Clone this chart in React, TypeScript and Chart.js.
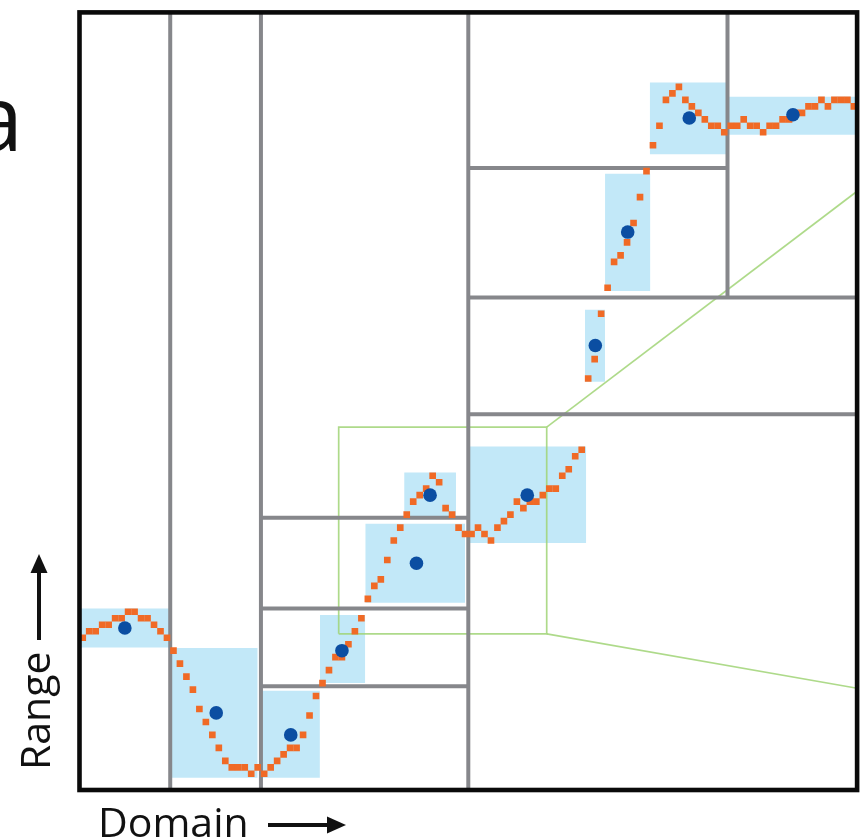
import React, { useEffect, useRef } from "react";
import { Chart, registerables } from "chart.js";

Chart.register(...registerables);

// Signal samples: one quantized level per domain cell (cell index = x).
const sampleLevels: number[] = [
  23, 24, 24, 25, 25, 26, 26, 27, 27, 26, 26, 25, 24, 23,
  21, 19, 17, 15, 12, 10, 8, 6, 4, 3, 3, 3, 2, 3,
  2, 3, 4, 5, 6, 6, 8, 11, 14, 16, 18, 20, 20, 22, 24, 26, 29, 31, 32, 35, 38, 40,
  42, 44, 45, 46, 48, 47, 43, 42, 40,
  39, 39, 40, 39, 38, 40, 41, 42, 44, 43, 44, 44, 45, 46, 46, 48, 49, 51, 52,
  63, 66, 73, 77, 81, 82, 84, 87, 91, 95, 99, 102, 106, 107, 108, 106, 105, 104,
  103, 102, 102, 101, 102, 102, 103, 102, 102, 101, 102, 102, 103, 103, 104, 104,
  105, 105, 106, 105, 106, 106, 106, 105,
];

// Bounding boxes of the samples falling in each leaf of the partition.
const binLeft = [-0.5, 13.5, 27.5, 36.6, 43.6, 49.6, 59.5, 77.5, 80.6, 87.5, 99.6];
const binRight = [13.5, 27.0, 36.6, 43.6, 59.0, 57.6, 77.7, 80.6, 87.6, 99.3, 119.5];
const binBottom = [21.5, 1.4, 1.4, 16.0, 28.4, 41.5, 37.6, 62.5, 76.5, 97.6, 100.6];
const binTop = [27.5, 21.4, 14.8, 26.5, 40.6, 48.5, 52.5, 73.6, 94.6, 108.7, 106.5];

// Representative point of each leaf.
const meanX = [6.5, 20.6, 32.1, 40.0, 51.5, 53.6, 68.6, 79.1, 84.1, 93.6, 109.6];
const meanY = [24.5, 11.4, 8.0, 21.0, 34.5, 45.0, 45.0, 68.1, 85.6, 103.2, 103.7];

// Partition split lines: [x1, y1, x2, y2].
const splitLines: [number, number, number, number][] = [
  [13.5, -0.5, 13.5, 119.5],
  [27.5, -0.5, 27.5, 119.5],
  [59.5, -0.5, 59.5, 119.5],
  [99.5, 75.5, 99.5, 119.5],
  [59.5, 95.5, 99.5, 95.5],
  [59.5, 75.5, 119.5, 75.5],
  [59.5, 57.5, 119.5, 57.5],
  [27.5, 41.5, 59.5, 41.5],
  [27.5, 27.5, 59.5, 27.5],
  [27.5, 15.5, 59.5, 15.5],
];

// Zoom window (left, bottom, right, top) and where its rays meet the right edge.
const zoomBox = [39.5, 23.6, 71.6, 55.5];
const zoomRayTopEnd = [119.5, 91.9];
const zoomRayBottomEnd = [119.5, 15.2];

const ORANGE = "#f06a26";
const DOT_BLUE = "#0b4ea2";
const BIN_BLUE = "#c2e8f8";
const GREY = "#86878b";
const GREEN = "rgba(160, 212, 118, 0.85)";
const FONT = '"Open Sans", "Noto Sans", sans-serif';

const framePlugin = {
  id: "frameAndLabels",
  afterDatasetsDraw(chart: any) {
    const { ctx, chartArea } = chart;
    const { left, top, right, bottom } = chartArea;
    ctx.save();
    ctx.strokeStyle = "#0a0a0a";
    ctx.lineWidth = 4.6;
    ctx.strokeRect(left, top, right - left, bottom - top);
    ctx.restore();
  },
  afterDraw(chart: any) {
    const { ctx } = chart;
    ctx.save();
    ctx.fillStyle = "#111";
    ctx.strokeStyle = "#111";

    // panel letter
    ctx.font = `92px ${FONT}`;
    ctx.textAlign = "right";
    ctx.textBaseline = "alphabetic";
    ctx.fillText("a", 23, 151);

    // x axis label with arrow
    ctx.font = `41px ${FONT}`;
    ctx.textAlign = "left";
    ctx.fillText("Domain", 98, 837);
    ctx.lineWidth = 4;
    ctx.beginPath();
    ctx.moveTo(268, 825);
    ctx.lineTo(330, 825);
    ctx.stroke();
    ctx.beginPath();
    ctx.moveTo(346, 825);
    ctx.lineTo(327, 816.5);
    ctx.lineTo(327, 833.5);
    ctx.closePath();
    ctx.fill();

    // y axis label with arrow
    ctx.save();
    ctx.translate(50, 770);
    ctx.rotate(-Math.PI / 2);
    ctx.fillText("Range", 0, 0);
    ctx.restore();
    ctx.beginPath();
    ctx.moveTo(39, 640);
    ctx.lineTo(39, 572);
    ctx.stroke();
    ctx.beginPath();
    ctx.moveTo(39, 554);
    ctx.lineTo(30.5, 573);
    ctx.lineTo(47.5, 573);
    ctx.closePath();
    ctx.fill();
    ctx.restore();
  },
};

export default function App() {
  const canvasRef = useRef<HTMLCanvasElement | null>(null);

  useEffect(() => {
    const canvas = canvasRef.current;
    if (!canvas) return;

    const datasets: any[] = [];

    // representative points (top-most)
    datasets.push({
      type: "scatter",
      data: meanX.map((x, i) => ({ x, y: meanY[i] })),
      pointStyle: "circle",
      pointRadius: 6.8,
      backgroundColor: DOT_BLUE,
      borderWidth: 0,
      clip: false,
    });

    // samples
    datasets.push({
      type: "scatter",
      data: sampleLevels.map((v, i) => ({ x: i, y: v })),
      pointStyle: "rect",
      pointRadius: 4.7,
      backgroundColor: ORANGE,
      borderWidth: 0,
    });

    // partition split lines
    splitLines.forEach(([x1, y1, x2, y2]) => {
      datasets.push({
        type: "line",
        data: [
          { x: x1, y: y1 },
          { x: x2, y: y2 },
        ],
        borderColor: GREY,
        borderWidth: 4,
        pointRadius: 0,
        fill: false,
      });
    });

    // zoom window and rays
    const [zl, zb, zr, zt] = zoomBox;
    const greenLine = (pts: { x: number; y: number }[]) => ({
      type: "line",
      data: pts,
      borderColor: GREEN,
      borderWidth: 1.7,
      pointRadius: 0,
      fill: false,
    });
    datasets.push(
      greenLine([
        { x: zl, y: zb },
        { x: zr, y: zb },
        { x: zr, y: zt },
        { x: zl, y: zt },
        { x: zl, y: zb },
      ])
    );
    datasets.push(
      greenLine([
        { x: zr, y: zt },
        { x: zoomRayTopEnd[0], y: zoomRayTopEnd[1] },
      ])
    );
    datasets.push(
      greenLine([
        { x: zr, y: zb },
        { x: zoomRayBottomEnd[0], y: zoomRayBottomEnd[1] },
      ])
    );

    // leaf bounding boxes (bottom-most)
    binLeft.forEach((l, i) => {
      datasets.push({
        type: "line",
        data: [
          { x: l, y: binTop[i] },
          { x: binRight[i], y: binTop[i] },
        ],
        borderWidth: 0,
        borderColor: "rgba(0,0,0,0)",
        backgroundColor: BIN_BLUE,
        pointRadius: 0,
        fill: { value: binBottom[i] },
      });
    });

    const chart = new Chart(canvas, {
      type: "scatter",
      data: { datasets },
      options: {
        animation: false,
        responsive: false,
        events: [],
        layout: {
          autoPadding: false,
          padding: { left: 79.5, top: 12.4, right: 2.9, bottom: 48 },
        },
        plugins: {
          legend: { display: false },
          tooltip: { enabled: false },
        },
        scales: {
          x: { type: "linear", min: -0.5, max: 119.5, display: false },
          y: { type: "linear", min: -0.5, max: 119.5, display: false },
        },
      },
      plugins: [framePlugin],
    });

    return () => chart.destroy();
  }, []);

  return (
    <div style={{ position: "fixed", left: 0, top: 0, width: 860, height: 838, background: "#fff" }}>
      <canvas ref={canvasRef} width={860} height={838} />
    </div>
  );
}
